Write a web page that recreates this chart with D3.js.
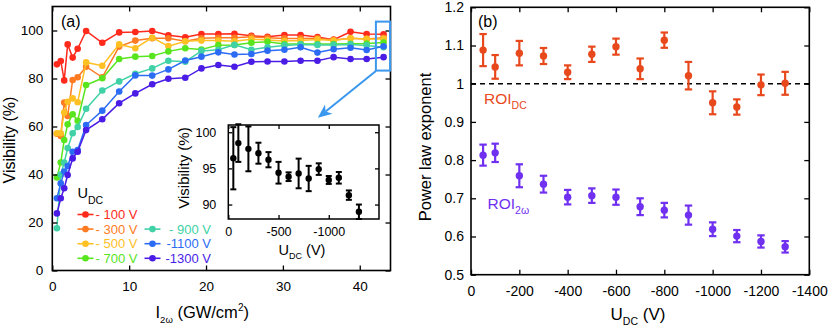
<!DOCTYPE html>
<html><head><meta charset="utf-8">
<script src="https://cdn.jsdelivr.net/npm/d3@7"></script>
<style>body{margin:0;background:#fff} svg{display:block}</style>
</head><body><svg id="c" width="830" height="330"></svg>
<script>
// ---------- DATA ----------
const intensity = [0.6, 1.1, 1.55, 2.0, 2.65, 3.3, 4.4, 6.5, 8.7, 10.8, 13.0, 15.1, 17.3, 19.4, 21.6, 23.7, 25.9, 28.0, 30.2, 32.3, 34.5, 36.6, 38.8, 40.9, 43.1];
const seriesLabels = ["- 100 V", "- 300 V", "- 500 V", "- 700 V", "- 900 V", "-1100 V", "-1300 V"];
const seriesColors = ["#ff2a1c", "#ff7b22", "#ffc024", "#58e51e", "#40d2a6", "#2c6cf4", "#4a1ce6"];
const vis100  = [85.9, 87.3, 79.2, 94.2, 88.7, 92.4, 99.8, 94.9, 99.2, 99.4, 99.8, 98.0, 97.2, 98.5, 98.5, 98.6, 97.8, 97.4, 98.1, 98.1, 97.3, 96.2, 99.5, 98.5, 98.4];
const vis300  = [57.0, 56.0, 70.0, 64.4, 79.4, 80.5, 84.9, 80.5, 93.3, 95.8, 96.8, 96.8, 95.5, 96.8, 97.0, 97.0, 97.4, 97.0, 96.7, 96.7, 96.8, 96.0, 96.8, 96.5, 97.0];
const vis500  = [57.2, 57.2, 65.8, 70.3, 71.7, 70.1, 86.7, 85.3, 94.2, 92.6, 97.0, 93.5, 95.5, 95.8, 95.8, 95.5, 96.4, 96.0, 95.6, 95.8, 96.3, 95.8, 96.8, 96.5, 96.5];
const vis700  = [38.8, 45.0, 54.4, 60.9, 65.1, 62.4, 77.3, 80.1, 88.1, 89.1, 89.4, 91.3, 92.6, 92.1, 93.9, 94.0, 94.9, 95.3, 94.4, 94.4, 94.4, 94.4, 94.5, 94.6, 95.0];
const vis900  = [17.6, 40.0, 45.0, 51.0, 57.2, 59.8, 67.4, 75.0, 78.8, 82.0, 84.2, 87.4, 87.0, 91.5, 92.0, 94.0, 92.0, 93.0, 93.8, 94.2, 94.0, 94.0, 94.2, 93.8, 93.0];
const vis1100 = [30.1, 36.3, 41.2, 43.5, 49.5, 50.2, 60.6, 66.6, 74.6, 81.3, 81.2, 83.8, 87.5, 89.1, 90.9, 90.0, 90.2, 91.6, 92.0, 93.0, 90.8, 92.2, 92.8, 91.9, 93.4];
const vis1300 = [23.8, 30.1, 34.3, 39.8, 46.7, 49.5, 58.5, 63.0, 69.7, 73.8, 77.6, 79.9, 80.3, 84.2, 85.6, 84.9, 87.0, 87.1, 87.1, 87.4, 87.4, 88.9, 88.1, 88.1, 88.9];
const visSeries = [vis100, vis300, vis500, vis700, vis900, vis1100, vis1300];

const uDC = [-50, -100, -200, -300, -400, -500, -600, -700, -800, -900, -1000, -1100, -1200, -1300];
const insetVis = [96.4, 98.5, 97.7, 97.1, 96.2, 94.4, 93.85, 94.3, 93.6, 94.9, 93.4, 93.7, 91.3, 89.0];
const insetErr = [4.3, 2.6, 3.1, 1.45, 1.05, 1.5, 0.6, 2.05, 1.75, 0.8, 0.55, 0.8, 0.65, 1.0];

const roiDC     = [1.088, 1.044, 1.080, 1.0725, 1.030, 1.077, 1.097, 1.039, 1.114, 1.021, 0.950, 0.939, 0.997, 1.001];
const roiDCErr  = [0.042, 0.031, 0.032, 0.021, 0.018, 0.020, 0.021, 0.027, 0.020, 0.036, 0.030, 0.020, 0.027, 0.030];
const roi2w     = [0.813, 0.819, 0.759, 0.737, 0.703, 0.707, 0.703, 0.678, 0.669, 0.656, 0.619, 0.601, 0.587, 0.573];
const roi2wErr  = [0.0275, 0.024, 0.030, 0.022, 0.019, 0.019, 0.020, 0.022, 0.019, 0.025, 0.018, 0.016, 0.016, 0.015];

const xTicksA = [0, 10, 20, 30, 40];
const yTicksA = [0, 20, 40, 60, 80, 100];
const xTicksB = [0, -200, -400, -600, -800, -1000, -1200, -1400];
const yTicksB = [0.5, 0.6, 0.7, 0.8, 0.9, 1, 1.1, 1.2];
const xTicksIn = [0, -500, -1000];
const yTicksIn = [90, 95, 100];

// ---------- DRAW ----------
const FONT = '"Liberation Sans", Arial, Helvetica, sans-serif';
const svg = d3.select("#c").attr("font-family", FONT);

function frame(g, x, y, box, xt, yt, o) {
  const t = o.tick;
  const fmt = d => String(d);
  g.append("g").attr("transform", `translate(0,${box.b})`)
    .call(d3.axisBottom(x).tickValues(xt).tickSizeInner(-t).tickSizeOuter(0).tickPadding(o.padX).tickFormat(fmt));
  g.append("g").attr("transform", `translate(0,${box.t})`)
    .call(d3.axisTop(x).tickValues(xt).tickSizeInner(-t).tickSizeOuter(0).tickFormat(""));
  g.append("g").attr("transform", `translate(${box.l},0)`)
    .call(d3.axisLeft(y).tickValues(yt).tickSizeInner(-t).tickSizeOuter(0).tickPadding(o.padY).tickFormat(fmt));
  g.append("g").attr("transform", `translate(${box.r},0)`)
    .call(d3.axisRight(y).tickValues(yt).tickSizeInner(-t).tickSizeOuter(0).tickFormat(""));
  g.selectAll(".domain").remove();
  g.selectAll(".tick line").attr("stroke", "#000").attr("stroke-width", 1.3);
  g.selectAll(".tick text").attr("font-size", o.fs).attr("font-family", FONT).attr("fill", "#000");
  g.append("rect").attr("x", box.l).attr("y", box.t).attr("width", box.r - box.l).attr("height", box.b - box.t)
    .attr("fill", "none").attr("stroke", "#000").attr("stroke-width", o.sw || 1.6);
}

// Panel (a)
const A = {l: 52.3, r: 390.5, t: 6.5, b: 270.5};
const xA = d3.scaleLinear().domain([0, 44]).range([A.l, A.r]);
const yA = d3.scaleLinear().domain([0, 110]).range([A.b, A.t]);
const gA = svg.append("g");
const line = d3.line().x((d, i) => xA(intensity[i])).y(d => yA(d));
visSeries.forEach((s, k) => {
  const gs = gA.append("g");
  gs.append("path").attr("d", line(s)).attr("fill", "none").attr("stroke", seriesColors[k]).attr("stroke-width", 1.5);
  gs.selectAll("circle").data(s).join("circle")
    .attr("cx", (d, i) => xA(intensity[i])).attr("cy", d => yA(d)).attr("r", 3.3).attr("fill", seriesColors[k]);
});
frame(gA, xA, yA, A, xTicksA, yTicksA, {tick: 5, padX: 11, padY: 9, fs: 13.5});
gA.append("text").attr("x", 61).attr("y", 27).attr("font-size", 16).text("(a)");

// Legend
const leg = gA.append("g");
const legT = leg.append("text").attr("x", 77.5).attr("y", 198).attr("font-size", 14.5).attr("fill", "#000");
legT.append("tspan").text("U");
legT.append("tspan").attr("dy", 6).attr("font-size", 10.5).text("DC");
const legPos = [[0, 0], [0, 1], [0, 2], [0, 3], [1, 1], [1, 2], [1, 3]];
seriesLabels.forEach((lab, k) => {
  const [c, r] = legPos[k];
  const x0 = c === 0 ? 77.5 : 144.5;
  const yy = 214.5 + r * 14.6;
  leg.append("line").attr("x1", x0).attr("x2", x0 + 16).attr("y1", yy).attr("y2", yy)
    .attr("stroke", seriesColors[k]).attr("stroke-width", 1.6);
  leg.append("circle").attr("cx", x0 + 8).attr("cy", yy).attr("r", 3.3).attr("fill", seriesColors[k]);
  leg.append("text").attr("x", c === 0 ? 137.5 : 211).attr("y", yy + 4.6).attr("text-anchor", "end")
    .attr("font-size", 13).attr("fill", seriesColors[k]).text(lab);
});

// Axis titles (a)
svg.append("text").attr("transform", "translate(15,140) rotate(-90)").attr("text-anchor", "middle").attr("font-size", 16).text("Visibility (%)");
const xTa = svg.append("text").attr("x", 155.5).attr("y", 318).attr("font-size", 16.5);
xTa.append("tspan").text("I");
xTa.append("tspan").attr("dy", 5).attr("font-size", 9.5).text("2ω");
xTa.append("tspan").attr("dy", -5).text(" (GW/cm");
xTa.append("tspan").attr("dy", -7).attr("font-size", 10).text("2");
xTa.append("tspan").attr("dy", 7).text(")");

// Highlight box + arrow
const hl = {x0: 42.1, x1: 43.95, y0: 83.3, y1: 103.7};
const HL = "#3a97ee";
svg.append("rect").attr("x", xA(hl.x0)).attr("y", yA(hl.y1)).attr("width", xA(hl.x1) - xA(hl.x0)).attr("height", yA(hl.y0) - yA(hl.y1))
  .attr("fill", "none").attr("stroke", HL).attr("stroke-width", 2);
(function arrow() {
  const sx = xA(hl.x0), sy = yA(hl.y0) + 0.5;
  const tx = xA(34.55), ty = yA(63.6);
  const dx = tx - sx, dy = ty - sy, L = Math.hypot(dx, dy), ux = dx / L, uy = dy / L, nx = -uy, ny = ux;
  const bx = tx - 14 * ux, by = ty - 14 * uy, mx = tx - 10 * ux, my = ty - 10 * uy;
  svg.append("line").attr("x1", sx).attr("y1", sy).attr("x2", mx).attr("y2", my).attr("stroke", HL).attr("stroke-width", 2);
  svg.append("path").attr("d", `M${tx},${ty}L${bx + 6 * nx},${by + 6 * ny}L${mx},${my}L${bx - 6 * nx},${by - 6 * ny}Z`).attr("fill", HL);
})();

// Inset
const IN = {l: 228.3, r: 379, t: 125, b: 219};
const xI = d3.scaleLinear().domain([0, -1500]).range([IN.l, IN.r]);
const yI = d3.scaleLinear().domain([88, 101]).range([IN.b, IN.t]);
const gI = svg.append("g");
gI.append("rect").attr("x", IN.l).attr("y", IN.t).attr("width", IN.r - IN.l).attr("height", IN.b - IN.t).attr("fill", "#fff");
frame(gI, xI, yI, IN, xTicksIn, yTicksIn, {tick: 4, padX: 8, padY: 12, fs: 12.5, sw: 1.5});
const eb = gI.append("g");
uDC.forEach((u, i) => {
  const x = xI(u), y1 = yI(insetVis[i] + insetErr[i]), y0 = yI(insetVis[i] - insetErr[i]);
  eb.append("line").attr("x1", x).attr("x2", x).attr("y1", y1).attr("y2", y0).attr("stroke", "#000").attr("stroke-width", 2);
  eb.append("line").attr("x1", x - 3).attr("x2", x + 3).attr("y1", y1).attr("y2", y1).attr("stroke", "#000").attr("stroke-width", 2);
  eb.append("line").attr("x1", x - 3).attr("x2", x + 3).attr("y1", y0).attr("y2", y0).attr("stroke", "#000").attr("stroke-width", 2);
  eb.append("circle").attr("cx", x).attr("cy", yI(insetVis[i])).attr("r", 3.2).attr("fill", "#000");
});
svg.append("text").attr("transform", "translate(188.5,168) rotate(-90)").attr("text-anchor", "middle").attr("font-size", 15).text("Visibility (%)");
const xTi = svg.append("text").attr("x", 302).attr("y", 254.5).attr("text-anchor", "middle").attr("font-size", 14.5);
xTi.append("tspan").text("U");
xTi.append("tspan").attr("dy", 4).attr("font-size", 9).text("DC");
xTi.append("tspan").attr("dy", -4).text(" (V)");

// Panel (b)
const B = {l: 471, r: 809.3, t: 7.3, b: 274.7};
const xB = d3.scaleLinear().domain([0, -1400]).range([B.l, B.r]);
const yB = d3.scaleLinear().domain([0.5, 1.2]).range([B.b, B.t]);
const gB = svg.append("g");
gB.append("line").attr("x1", B.l).attr("x2", B.r).attr("y1", yB(1)).attr("y2", yB(1))
  .attr("stroke", "#000").attr("stroke-width", 1.6).attr("stroke-dasharray", "5,4");
function errSeries(vals, errs, color) {
  const g = gB.append("g");
  uDC.forEach((u, i) => {
    const x = xB(u), y1 = yB(vals[i] + errs[i]), y0 = yB(vals[i] - errs[i]);
    g.append("line").attr("x1", x).attr("x2", x).attr("y1", y1).attr("y2", y0).attr("stroke", color).attr("stroke-width", 2.2);
    g.append("line").attr("x1", x - 3.7).attr("x2", x + 3.7).attr("y1", y1).attr("y2", y1).attr("stroke", color).attr("stroke-width", 2.2);
    g.append("line").attr("x1", x - 3.7).attr("x2", x + 3.7).attr("y1", y0).attr("y2", y0).attr("stroke", color).attr("stroke-width", 2.2);
    g.append("circle").attr("cx", x).attr("cy", yB(vals[i])).attr("r", 3.7).attr("fill", color);
  });
}
const cDC = "#e8491c", c2w = "#7030f0";
errSeries(roiDC, roiDCErr, cDC);
errSeries(roi2w, roi2wErr, c2w);
frame(gB, xB, yB, B, xTicksB, yTicksB, {tick: 5, padX: 11, padY: 7, fs: 14});
gB.append("text").attr("x", 478).attr("y", 27).attr("font-size", 16).text("(b)");
const tDC = gB.append("text").attr("x", 484).attr("y", 103.5).attr("font-size", 15.5).attr("fill", cDC);
tDC.append("tspan").text("ROI");
tDC.append("tspan").attr("dy", 5.5).attr("font-size", 10.5).text("DC");
const t2w = gB.append("text").attr("x", 487.5).attr("y", 208.5).attr("font-size", 15.5).attr("fill", c2w);
t2w.append("tspan").text("ROI");
t2w.append("tspan").attr("dy", 5.5).attr("font-size", 10.5).text("2ω");

svg.append("text").attr("transform", "translate(431,147) rotate(-90)").attr("text-anchor", "middle").attr("font-size", 16.5).text("Power law exponent");
const xTb = svg.append("text").attr("x", 638).attr("y", 320).attr("text-anchor", "middle").attr("font-size", 17);
xTb.append("tspan").text("U");
xTb.append("tspan").attr("dy", 5).attr("font-size", 10.5).text("DC");
xTb.append("tspan").attr("dy", -5).text(" (V)");
</script></body></html>
